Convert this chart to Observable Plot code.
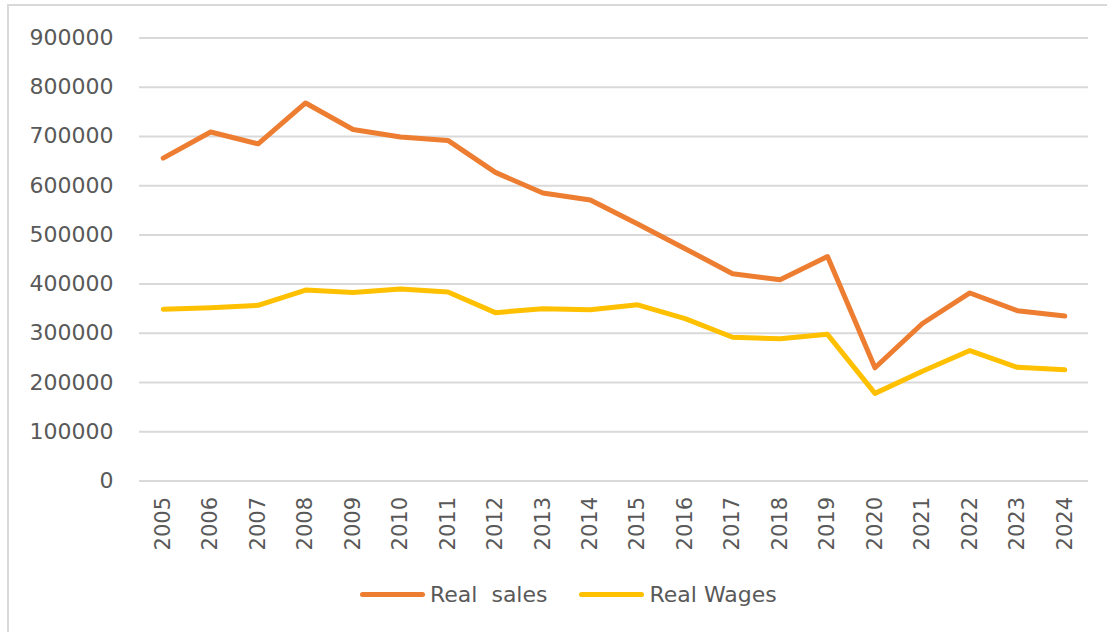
<!DOCTYPE html>
<html>
<head>
<meta charset="utf-8">
<script src="https://cdn.jsdelivr.net/npm/d3@7"></script>
<script src="https://cdn.jsdelivr.net/npm/@observablehq/plot@0.6"></script>
<style>
  html, body { margin: 0; padding: 0; background: #fff; }
  body { width: 1107px; height: 632px; position: relative; overflow: hidden; font-family: "DejaVu Sans", sans-serif; }
  #frame { position: absolute; left: 7px; top: 4px; width: 1100px; height: 628px; border-top: 2px solid #d9d9d9; border-left: 2px solid #d9d9d9; box-sizing: border-box; }
  #chart { position: absolute; left: 0; top: 0; }
  #legend { position: absolute; left: 360px; top: 582px; display: flex; align-items: center; font-size: 22px; color: #595959; white-space: pre; }
  .sw { display: inline-block; width: 65px; height: 5px; border-radius: 3px; margin-right: 5px; }
  .item { display: flex; align-items: center; margin-right: 32px; }
</style>
</head>
<body>
<div id="frame"></div>
<div id="chart"></div>
<div id="legend"></div>
<script>
const years = [2005,2006,2007,2008,2009,2010,2011,2012,2013,2014,2015,2016,2017,2018,2019,2020,2021,2022,2023,2024];
const realSales = [656000,709000,685000,768000,714000,699000,692000,627000,585000,571000,522000,472000,421000,409000,456000,230000,320000,382000,346000,335000];
const realWages = [349000,352000,357000,388000,383000,390000,384000,342000,350000,348000,358000,330000,292000,289000,298000,178000,223000,265000,231000,226000];
const yTicks = [0,100000,200000,300000,400000,500000,600000,700000,800000,900000];
const seriesNames = ["Real  sales", "Real Wages"];
const seriesColors = ["#ED7D31", "#FFC000"];

const data = [];
years.forEach((y, i) => {
  data.push({year: String(y), value: realSales[i], series: seriesNames[0]});
  data.push({year: String(y), value: realWages[i], series: seriesNames[1]});
});

const chart = Plot.plot({
  width: 1107,
  height: 560,
  marginLeft: 139,
  marginRight: 19,
  marginTop: 37.5,
  marginBottom: 79.5,
  style: {fontFamily: "DejaVu Sans, sans-serif", color: "#595959", background: "transparent"},
  x: {type: "point", domain: years.map(String), padding: 0.5, round: false, label: null},
  y: {domain: [0, 900000], label: null},
  color: {domain: seriesNames, range: seriesColors},
  marks: [
    Plot.ruleY(yTicks, {stroke: "#d9d9d9", strokeWidth: 2}),
    Plot.axisY(yTicks, {tickSize: 0, tickPadding: 26, fontSize: 22, tickFormat: d => String(d), label: null, fill: "#595959"}),
    Plot.axisX({tickSize: 0, tickPadding: 16, tickRotate: -90, fontSize: 21, label: null, fill: "#595959"}),
    Plot.line(data, {x: "year", y: "value", z: "series", stroke: "series", strokeWidth: 5, strokeLinecap: "round", strokeLinejoin: "round"})
  ]
});
document.getElementById("chart").appendChild(chart);

const legend = document.getElementById("legend");
seriesNames.forEach((n, i) => {
  const item = document.createElement("div");
  item.className = "item";
  const sw = document.createElement("span");
  sw.className = "sw";
  sw.style.background = seriesColors[i];
  const t = document.createElement("span");
  t.textContent = n;
  item.appendChild(sw);
  item.appendChild(t);
  legend.appendChild(item);
});
</script>
</body>
</html>
